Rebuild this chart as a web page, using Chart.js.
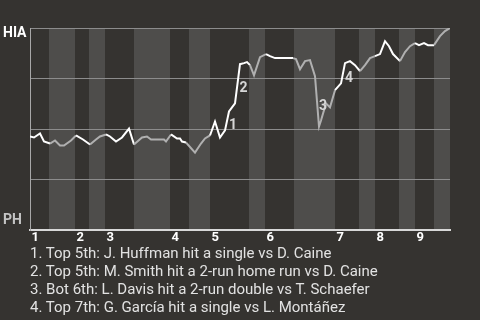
<!DOCTYPE html>
<html>
<head>
<meta charset="utf-8">
<script src="https://cdn.jsdelivr.net/npm/chart.js@4/dist/chart.umd.min.js"></script>
<style>
  html, body { margin: 0; padding: 0; background: #353330; }
  #wrap { position: relative; width: 480px; height: 320px; overflow: hidden; }
  canvas { position: absolute; left: 0; top: 0; }
  #events { position: absolute; left: 30px; top: 244px; margin: 0; padding: 0; list-style: none;
            font-family: Roboto, sans-serif; font-size: 15px; line-height: 18px; color: #e2e2e2; white-space: nowrap; }
</style>
</head>
<body>
<div id="wrap">
  <canvas id="c" width="480" height="320"></canvas>
  <ul id="events"></ul>
</div>
<script>
// ---- data ----
const teamTop = 'HIA';
const teamBottom = 'PH';
const inningLabels = ['1', '2', '3', '4', '5', '6', '7', '8', '9'];
// game progress where each half inning starts (top 1st, bot 1st, top 2nd, ...) and game end
const halfInningStarts = [0, 3.8, 9, 11.8, 15, 20.8, 28, 31.8, 36, 43.8, 47, 52.8, 61, 65.8, 69, 73.8, 77, 80.8, 84];
// play-by-play progress and HIA win probability (%)
const progress = [0, 0.8, 2, 2.8, 4, 5, 6, 6.8, 8.2, 9.2, 10.6, 12, 13.2, 14, 15.2, 16, 17.2, 18.4, 19.8, 20.8,
  22.4, 23.4, 24.2, 26.8, 27.2, 28.2, 29.4, 30, 30.4, 31.2, 33, 34.2, 35, 36, 37, 38, 39, 39.8, 40.4, 41,
  42, 42.8, 43.4, 44, 44.8, 46, 47.2, 48, 49, 50, 52.6, 53.2, 54, 55, 56, 57, 57.8, 58.2, 59.2, 60,
  61, 62.2, 63, 64, 65, 66, 67, 68, 69, 70, 71, 71.8, 72.6, 74, 75, 76, 77, 77.8, 78.8, 79.6,
  80.8, 82, 83, 84];
const winProb = [46.3, 45.8, 47.8, 43.8, 42.8, 44.3, 41.8, 41.8, 44.3, 46.8, 44.8, 42.3, 44.8, 46.3, 47.3, 46.3, 43.8, 45.8, 50.2, 42.3,
  45.8, 46.3, 44.8, 44.8, 43.8, 47.3, 45.3, 45.3, 43.8, 43.3, 38.3, 42.8, 45.3, 46.8, 53.7, 45.8, 49.3, 58.7, 60.7, 62.7,
  82.1, 82.6, 83.1, 81.6, 76.6, 85.6, 87.1, 86.1, 85.1, 85.1, 85.1, 84.6, 79.6, 83.6, 84.1, 76.1, 51.2, 54.2, 62.7, 60.7,
  69.2, 72.6, 82.6, 83.6, 81.6, 78.6, 81.6, 85.1, 86.1, 87.1, 93.5, 91.0, 87.1, 83.6, 88.1, 91.0, 92.5, 91.5, 92.5, 91.5,
  91.5, 96.0, 98.5, 100];
// key plays: index of the point ending the play, and its description
const eventPoints = [37, 40, 56, 62];
const eventTexts = [
  'Top 5th: J. Huffman hit a single vs D. Caine',
  'Top 5th: M. Smith hit a 2-run home run vs D. Caine',
  'Bot 6th: L. Davis hit a 2-run double vs T. Schaefer',
  'Top 7th: G. García hit a single vs L. Montáñez'
];
const gridValues = [0, 25, 50, 75, 100];
const teamLabelValues = [97.3, 4.5];

// ---- list ----
const ul = document.getElementById('events');
eventTexts.forEach((t, i) => {
  const li = document.createElement('li');
  li.textContent = (i + 1) + '. ' + t;
  ul.appendChild(li);
});

const DARK = '#353330', LIGHT = '#4e4d4b';

function bandIndex(v) {
  for (let k = 0; k < halfInningStarts.length - 1; k++) {
    if (v >= halfInningStarts[k] && v < halfInningStarts[k + 1]) return k;
  }
  return halfInningStarts.length - 2;
}

const bandsPlugin = {
  id: 'bands',
  beforeDraw(chart) {
    const { ctx, chartArea: a, scales: { x } } = chart;
    ctx.save();
    for (let k = 0; k < halfInningStarts.length - 1; k++) {
      const x0 = x.getPixelForValue(halfInningStarts[k]);
      const x1 = x.getPixelForValue(halfInningStarts[k + 1]);
      ctx.fillStyle = k % 2 === 0 ? DARK : LIGHT;
      ctx.fillRect(x0, a.top, x1 - x0, a.bottom - a.top);
    }
    ctx.restore();
  }
};

const markersPlugin = {
  id: 'markers',
  afterDatasetsDraw(chart) {
    const { ctx } = chart;
    const pts = chart.getDatasetMeta(0).data;
    ctx.save();
    ctx.font = 'bold 14px Roboto, sans-serif';
    ctx.fillStyle = '#d6d6d6';
    ctx.textAlign = 'center';
    ctx.textBaseline = 'middle';
    eventPoints.forEach((idx, i) => {
      const a = pts[idx - 1], b = pts[idx];
      const mx = (a.x + b.x) / 2 + 6;
      const my = (a.y + b.y) / 2 + 5;
      ctx.fillText(String(i + 1), mx, my);
    });
    ctx.restore();
  }
};

new Chart(document.getElementById('c'), {
  type: 'line',
  data: {
    datasets: [{
      data: progress.map((p, i) => ({ x: p, y: winProb[i] })),
      borderColor: '#ffffff',
      borderWidth: 2,
      pointRadius: 0,
      tension: 0,
      fill: false,
      segment: {
        borderColor: c => bandIndex((c.p0.parsed.x + c.p1.parsed.x) / 2) % 2 === 0 ? '#ffffff' : '#b0b0b0'
      }
    }]
  },
  options: {
    responsive: false,
    animation: false,
    events: [],
    layout: { padding: { left: 3, top: 28, right: 30, bottom: 70 } },
    plugins: { legend: { display: false }, tooltip: { enabled: false } },
    scales: {
      x: {
        type: 'linear',
        min: halfInningStarts[0],
        max: halfInningStarts[halfInningStarts.length - 1],
        afterBuildTicks: s => { s.ticks = halfInningStarts.filter((v, k) => k % 2 === 0 && k < halfInningStarts.length - 1).map(v => ({ value: v })); },
        afterFit: s => { s.height = 20; },
        ticks: {
          callback: (v, i) => inningLabels[i],
          align: 'start',
          labelOffset: 1.5,
          autoSkip: false,
          maxRotation: 0,
          padding: 0,
          color: '#ffffff',
          font: { family: 'Roboto', weight: 'bold', size: 13 }
        },
        grid: { display: false, drawTicks: false },
        border: { display: true, color: '#d8d8d8', width: 2 }
      },
      y: {
        min: 0, max: 100,
        afterBuildTicks: s => { s.ticks = gridValues.concat(teamLabelValues).sort((a, b) => a - b).map(v => ({ value: v })); },
        afterFit: s => { s.width = 27; },
        ticks: {
          callback: v => v === teamLabelValues[0] ? teamTop : (v === teamLabelValues[1] ? teamBottom : ''),
          crossAlign: 'far',
          padding: 0,
          color: c => c.tick && c.tick.value === teamLabelValues[0] ? '#ffffff' : '#c4c4c4',
          font: { family: 'Roboto', weight: 'bold', size: 14 }
        },
        grid: {
          drawTicks: false,
          color: c => (c.tick && gridValues.includes(c.tick.value)) ? '#8c8c8c' : 'rgba(0,0,0,0)',
          lineWidth: 1
        },
        border: { display: true, color: '#a8a8a8', width: 1 }
      }
    }
  },
  plugins: [bandsPlugin, markersPlugin]
});
</script>
</body>
</html>
